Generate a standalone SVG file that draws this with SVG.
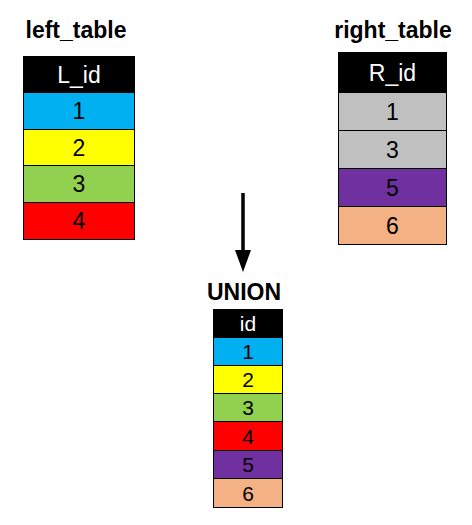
<svg xmlns="http://www.w3.org/2000/svg" width="472" height="525" viewBox="0 0 472 525">
<style>
.title{font-family:"Liberation Sans",Arial,sans-serif;font-weight:bold;font-size:23px;fill:#000;text-anchor:middle}
.cell{stroke:#000;stroke-width:1}
.t{font-family:"Liberation Sans",Arial,sans-serif;font-size:23px;fill:#000;text-anchor:middle;dominant-baseline:central}
.ts{font-family:"Liberation Sans",Arial,sans-serif;font-size:21px;fill:#000;text-anchor:middle;dominant-baseline:central}
.h{fill:#fff}
</style>
<defs>
<marker id="ah" markerWidth="22" markerHeight="16" refX="0" refY="8" orient="auto" markerUnits="userSpaceOnUse" viewBox="0 0 22 16">
<path d="M0,0 L22,8 L0,16 Z" fill="#000"/>
</marker>
</defs>
<rect width="472" height="525" fill="#fff"/>

<g id="left_table">
<text class="title" x="76" y="38">left_table</text>
<rect class="cell" x="23.5" y="56.5" width="111" height="36" fill="#000"/>
<text class="t h" x="79" y="74.5">L_id</text>
<rect class="cell" x="23.5" y="92.5" width="111" height="37" fill="#00B0F0"/>
<text class="t" x="79" y="111">1</text>
<rect class="cell" x="23.5" y="129.5" width="111" height="36" fill="#FFFF00"/>
<text class="t" x="79" y="147.5">2</text>
<rect class="cell" x="23.5" y="165.5" width="111" height="37" fill="#92D050"/>
<text class="t" x="79" y="184">3</text>
<rect class="cell" x="23.5" y="202.5" width="111" height="37" fill="#FF0000"/>
<text class="t" x="79" y="221">4</text>
</g>

<g id="right_table">
<text class="title" x="393" y="38">right_table</text>
<rect class="cell" x="338.5" y="52.5" width="108" height="40" fill="#000"/>
<text class="t h" x="392.5" y="72.5">R_id</text>
<rect class="cell" x="338.5" y="92.5" width="108" height="38" fill="#C0C0C0"/>
<text class="t" x="392.5" y="111.5">1</text>
<rect class="cell" x="338.5" y="130.5" width="108" height="38" fill="#C0C0C0"/>
<text class="t" x="392.5" y="149.5">3</text>
<rect class="cell" x="338.5" y="168.5" width="108" height="38" fill="#7030A0"/>
<text class="t" x="392.5" y="187.5">5</text>
<rect class="cell" x="338.5" y="206.5" width="108" height="38" fill="#F4B183"/>
<text class="t" x="392.5" y="225.5">6</text>
</g>

<g id="union_table">
<text class="title" x="244" y="300">UNION</text>
<rect class="cell" x="213.5" y="309.5" width="69" height="28" fill="#000"/>
<text class="ts h" x="248" y="323.5">id</text>
<rect class="cell" x="213.5" y="337.5" width="69" height="28" fill="#00B0F0"/>
<text class="ts" x="248" y="351.5">1</text>
<rect class="cell" x="213.5" y="365.5" width="69" height="28" fill="#FFFF00"/>
<text class="ts" x="248" y="379.5">2</text>
<rect class="cell" x="213.5" y="393.5" width="69" height="28" fill="#92D050"/>
<text class="ts" x="248" y="407.5">3</text>
<rect class="cell" x="213.5" y="421.5" width="69" height="29" fill="#FF0000"/>
<text class="ts" x="248" y="436">4</text>
<rect class="cell" x="213.5" y="450.5" width="69" height="28" fill="#7030A0"/>
<text class="ts" x="248" y="464.5">5</text>
<rect class="cell" x="213.5" y="478.5" width="69" height="29" fill="#F4B183"/>
<text class="ts" x="248" y="493">6</text>
</g>

<g id="connectors">
<line x1="243" y1="193" x2="243" y2="250" stroke="#000" stroke-width="3.5" marker-end="url(#ah)"/>
</g>
</svg>
